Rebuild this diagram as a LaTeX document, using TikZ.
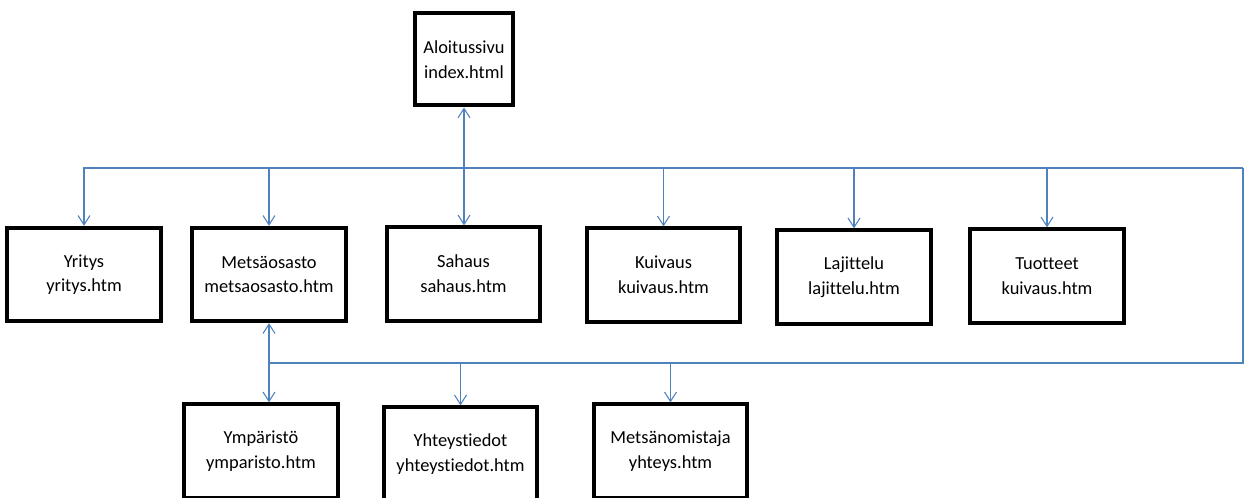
\documentclass[tikz,border=0pt]{standalone}
\usepackage{fontspec}
\setmainfont{Carlito}[Ligatures=NoCommon]
\usetikzlibrary{arrows.meta}
\definecolor{linkblue}{RGB}{79,129,189}

\begin{document}
\begin{tikzpicture}[x=0.75pt, y=-0.75pt,
        page/.style={shape=rectangle, draw=black, line width=3pt, inner sep=0pt,
            minimum width=115pt, minimum height=70pt, align=center,
            font=\fontsize{13.8}{18.5}\selectfont},
        link/.style={draw=linkblue, line width=0.8pt},
        tip/.style={-{Straight Barb[length=7pt, width=9pt]}},
        both/.style={{Straight Barb[length=7pt, width=9pt]}-{Straight Barb[length=7pt, width=9pt]}}]
        \clip (0,0) rectangle (1251,498);

        \node[page, minimum width=74pt, minimum height=69pt] (index) at (464,59.5) {Aloitussivu\\index.html};
        \node[page] (yritys) at (84,274.5) {Yritys\\yritys.htm};
        \node[page] (metsa) at (269,274.5) {Metsäosasto\\metsaosasto.htm};
        \node[page] (sahaus) at (463.5,274) {Sahaus\\sahaus.htm};
        \node[page] (kuivaus) at (663.5,275) {Kuivaus\\kuivaus.htm};
        \node[page] (lajittelu) at (854,277) {Lajittelu\\lajittelu.htm};
        \node[page] (tuotteet) at (1047,276) {Tuotteet\\kuivaus.htm};
        \node[page] (ymparisto) at (261,451) {Ympäristö\\ymparisto.htm};
        \node[page] (yhteystiedot) at (460.5,454) {Yhteystiedot\\yhteystiedot.htm};
        \node[page] (omistaja) at (670.5,451) {Metsänomistaja\\yhteys.htm};
        \coordinate (topR) at (1243,168);   % right end of the upper line
        \coordinate (botR) at (1243,363);   % right end of the lower line

        \draw[link, both] (index.south) -- (index.south |- sahaus.north);
        \draw[link, tip] (topR) -| (yritys.north);
        \draw[link, tip] (metsa.north |- topR) -- (metsa.north);
        \draw[link, tip] (kuivaus.north |- topR) -- (kuivaus.north);
        \draw[link, tip] (lajittelu.north |- topR) -- (lajittelu.north);
        \draw[link, tip] (tuotteet.north |- topR) -- (tuotteet.north);

        \draw[link] (topR) -- (botR) -- (metsa.south |- botR);
        \draw[link, both] (metsa.south) -- (metsa.south |- ymparisto.north);
        \draw[link, tip] (yhteystiedot.north |- botR) -- (yhteystiedot.north);
        \draw[link, tip] (omistaja.north |- botR) -- (omistaja.north);
    \end{tikzpicture}
\end{document}
